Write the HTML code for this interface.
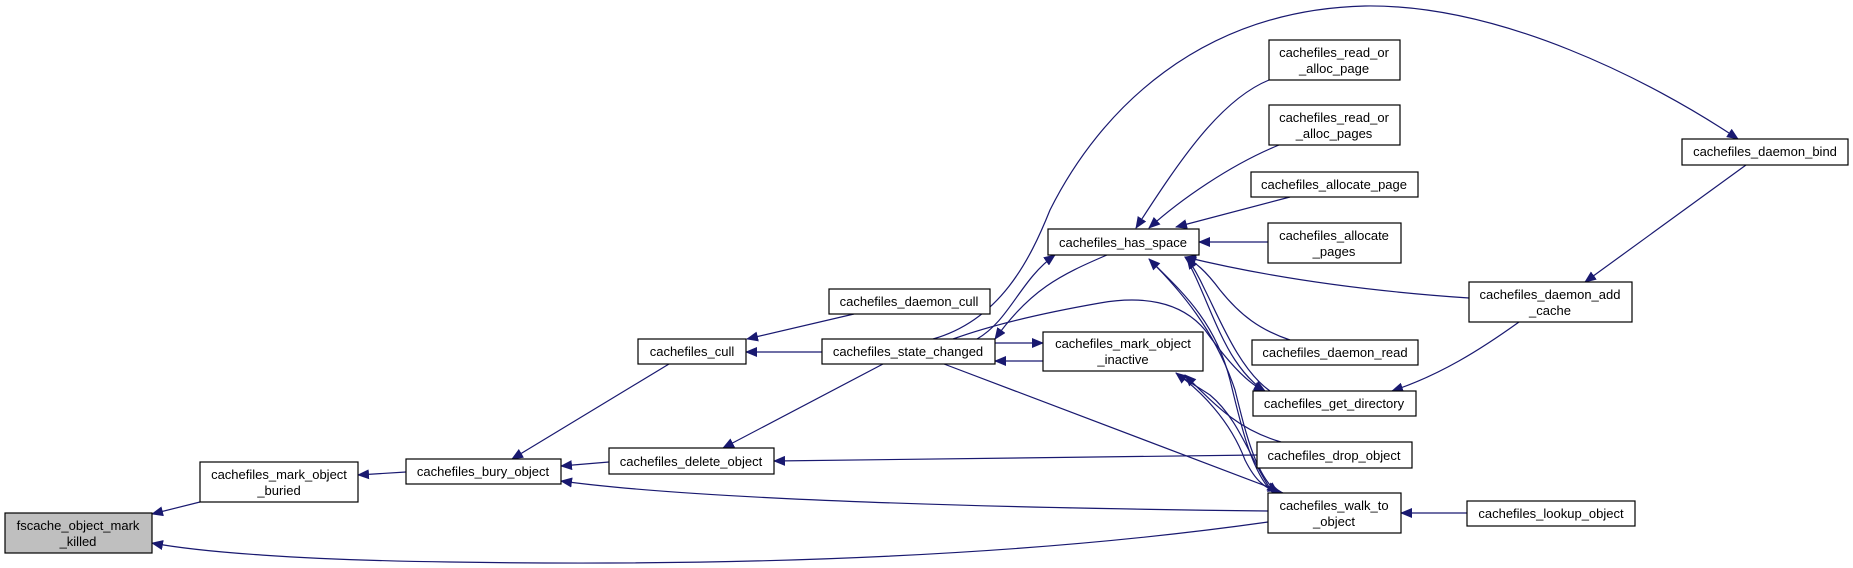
<!DOCTYPE html>
<html><head><meta charset="utf-8"><style>
html,body{margin:0;padding:0;background:#fff;}
svg{display:block;}
text{font-family:"Liberation Sans",sans-serif;font-size:13px;fill:#000;}
</style></head><body>
<svg width="1853" height="568" viewBox="0 0 1853 568" xmlns="http://www.w3.org/2000/svg">
<defs>
<marker id="a" viewBox="0 0 12 10" refX="11" refY="5" markerWidth="12" markerHeight="10" markerUnits="userSpaceOnUse" orient="auto">
<path d="M0,0 L12,5 L0,10 z" fill="#191970"/>
</marker>
</defs>
<g fill="none" stroke="#191970" stroke-width="1.2" marker-end="url(#a)">
<path d="M200,502 L152,514"/>
<path d="M1268,522 C1000,560 700,566 450,562 C300,560 200,552 152,543"/>
<path d="M406,472 L358,475"/>
<path d="M669,364 L512,459"/>
<path d="M609,462 L561,466"/>
<path d="M1268,511 C1000,508 700,500 561,481"/>
<path d="M854,314 L747,339"/>
<path d="M822,352 L746,352"/>
<path d="M883,364 L723,448"/>
<path d="M977,339 C1010,320 1020,280 1055,255"/>
<path d="M1107,255 C1060,275 1030,290 995,339"/>
<path d="M995,343 L1043,343"/>
<path d="M1043,361 L995,361"/>
<path d="M933,339 C1000,320 1030,260 1050,210 C1100,110 1200,10 1365,6 C1500,4 1650,80 1738,139"/>
<path d="M1269,80 C1220,100 1180,160 1136,228"/>
<path d="M1279,145 C1230,165 1180,200 1149,228"/>
<path d="M1290,197 L1176,227"/>
<path d="M1268,242 L1199,242"/>
<path d="M1469,298 C1380,292 1280,280 1185,257"/>
<path d="M1290,340 C1260,330 1240,315 1220,290 C1205,270 1195,262 1185,257"/>
<path d="M1270,391 C1240,370 1220,320 1205,290 C1198,275 1192,265 1187,258"/>
<path d="M1185,257 C1200,280 1215,330 1235,360 C1245,375 1255,385 1265,391"/>
<path d="M1519,322 C1480,350 1440,375 1392,391"/>
<path d="M1746,165 L1585,282"/>
<path d="M953,339 C1000,322 1060,310 1100,303 C1140,296 1180,300 1205,330 C1230,365 1250,385 1265,391"/>
<path d="M1273,493 C1250,470 1240,420 1230,380 C1215,320 1180,290 1149,259"/>
<path d="M1149,259 C1180,290 1215,330 1235,390 C1245,430 1255,475 1278,493"/>
<path d="M1273,493 C1250,460 1240,420 1210,395 C1195,385 1185,380 1176,373"/>
<path d="M1176,373 C1200,390 1230,420 1245,460 C1255,480 1265,490 1283,493"/>
<path d="M1281,442 C1240,430 1220,410 1185,375"/>
<path d="M1257,455 L774,461"/>
<path d="M944,364 L1279,491"/>
<path d="M1467,513 L1401,513"/>
</g>
<g stroke="#000" stroke-width="1.2" fill="#fff">
<rect x="5" y="513" width="147" height="40" fill="#bfbfbf"/>
<rect x="200" y="462" width="158" height="40"/>
<rect x="406" y="459" width="155" height="25"/>
<rect x="638" y="339" width="108" height="25"/>
<rect x="829" y="289" width="161" height="25"/>
<rect x="822" y="339" width="173" height="25"/>
<rect x="609" y="448" width="165" height="26"/>
<rect x="1048" y="229" width="151" height="26"/>
<rect x="1043" y="332" width="160" height="39"/>
<rect x="1269" y="40" width="131" height="40"/>
<rect x="1269" y="105" width="131" height="40"/>
<rect x="1251" y="172" width="167" height="25"/>
<rect x="1268" y="223" width="133" height="40"/>
<rect x="1252" y="340" width="166" height="25"/>
<rect x="1253" y="391" width="163" height="25"/>
<rect x="1257" y="442" width="155" height="26"/>
<rect x="1268" y="493" width="133" height="40"/>
<rect x="1682" y="139" width="166" height="26"/>
<rect x="1469" y="282" width="163" height="40"/>
<rect x="1467" y="501" width="168" height="25"/>
</g>
<g text-anchor="middle">
<text x="78" y="530">fscache_object_mark</text><text x="78" y="546">_killed</text>
<text x="279" y="479">cachefiles_mark_object</text><text x="279" y="495">_buried</text>
<text x="483" y="476">cachefiles_bury_object</text>
<text x="692" y="356">cachefiles_cull</text>
<text x="909" y="306">cachefiles_daemon_cull</text>
<text x="908" y="356">cachefiles_state_changed</text>
<text x="691" y="466">cachefiles_delete_object</text>
<text x="1123" y="247">cachefiles_has_space</text>
<text x="1123" y="348">cachefiles_mark_object</text><text x="1123" y="364">_inactive</text>
<text x="1334" y="57">cachefiles_read_or</text><text x="1334" y="73">_alloc_page</text>
<text x="1334" y="122">cachefiles_read_or</text><text x="1334" y="138">_alloc_pages</text>
<text x="1334" y="189">cachefiles_allocate_page</text>
<text x="1334" y="240">cachefiles_allocate</text><text x="1334" y="256">_pages</text>
<text x="1335" y="357">cachefiles_daemon_read</text>
<text x="1334" y="408">cachefiles_get_directory</text>
<text x="1334" y="460">cachefiles_drop_object</text>
<text x="1334" y="510">cachefiles_walk_to</text><text x="1334" y="526">_object</text>
<text x="1765" y="156">cachefiles_daemon_bind</text>
<text x="1550" y="299">cachefiles_daemon_add</text><text x="1550" y="315">_cache</text>
<text x="1551" y="518">cachefiles_lookup_object</text>
</g>
</svg>
</body></html>
